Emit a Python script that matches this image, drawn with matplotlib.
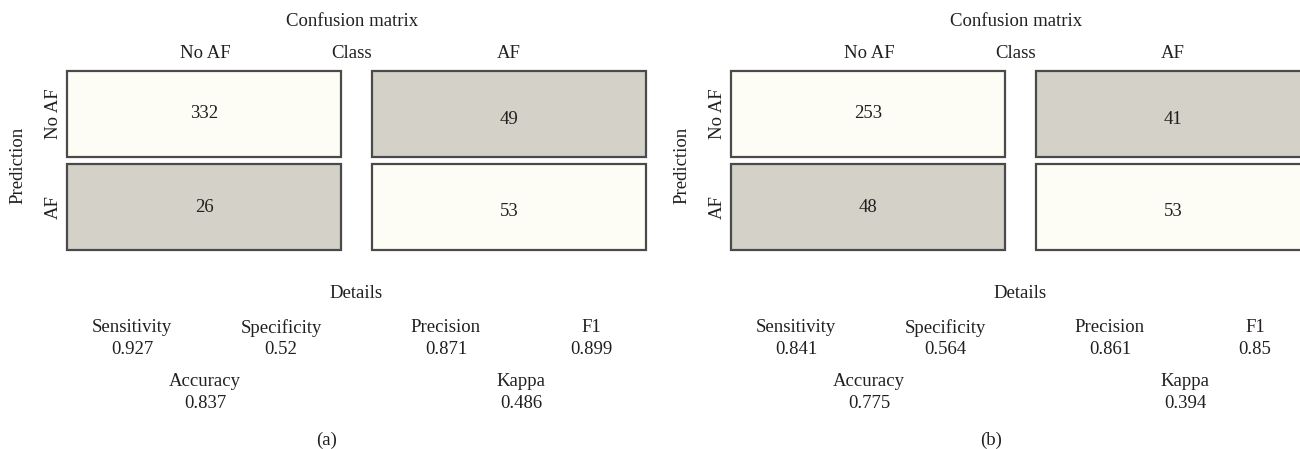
import matplotlib
matplotlib.use("Agg")
import matplotlib.pyplot as plt
from matplotlib.patches import Rectangle

# ── Data ─────────────────────────────────────────────────────────────────────
classes = ["No AF", "AF"]
counts_a = [[332, 49], [26, 53]]
counts_b = [[253, 41], [48, 53]]
top_metrics = ["Sensitivity", "Specificity", "Precision", "F1"]
top_values_a = ["0.927", "0.52", "0.871", "0.899"]
top_values_b = ["0.841", "0.564", "0.861", "0.85"]
bottom_metrics = ["Accuracy", "Kappa"]
bottom_values_a = ["0.837", "0.486"]
bottom_values_b = ["0.775", "0.394"]
panel_labels = ["(a)", "(b)"]

plt.rcParams["font.family"] = ["Liberation Serif", "DejaVu Serif"]
TXT = "#231f20"
LIGHT = "#fefdf5"
DARK = "#d4d2c8"
EDGE = "#4a4a4a"
FS = 13.5

fig = plt.figure(figsize=(13, 4.49), dpi=100)
ax = fig.add_axes([0, 0, 1, 1])
ax.set_xlim(0, 1300)
ax.set_ylim(449, 0)
ax.axis("off")

# layout in pixel units (figure is 1300 x 449)
COL_X = [67, 372]
ROW_Y = [71, 164]
CELL_W, CELL_H = 274, 86


def put(x, y, s, **kw):
    if "va" not in kw:
        kw["va"] = "center_baseline"
        y -= 2
    ax.text(x, y, s, ha="center", fontsize=FS, color=TXT, **kw)


def draw_panel(x0, counts, top_vals, bot_vals, label):
    put(x0 + 352, 21, "Confusion matrix")
    put(x0 + 205, 54, classes[0])
    put(x0 + 352, 54, "Class")
    put(x0 + 509, 54, classes[1])
    put(x0 + 18, 165, "Prediction", rotation=90, va="center")
    for i in range(2):
        put(x0 + 53, ROW_Y[i] + CELL_H / 2, classes[i], rotation=90, va="center")
        for j in range(2):
            face = LIGHT if i == j else DARK
            ax.add_patch(Rectangle((x0 + COL_X[j], ROW_Y[i]), CELL_W, CELL_H,
                                   facecolor=face, edgecolor=EDGE, linewidth=1.6))
            put(x0 + COL_X[j] + CELL_W / 2, ROW_Y[i] + CELL_H / 2 + 5 * j, str(counts[i][j]))

    put(x0 + 356, 293, "Details")
    for name, val, xm in zip(top_metrics, top_vals, [132, 281, 446, 591]):
        put(x0 + xm, 328, name)
        put(x0 + xm, 350, val)
    for name, val, xm in zip(bottom_metrics, bot_vals, [205, 521]):
        put(x0 + xm, 381, name)
        put(x0 + xm, 403, val)
    put(x0 + 327, 440, label)


draw_panel(0, counts_a, top_values_a, bottom_values_a, panel_labels[0])
draw_panel(664, counts_b, top_values_b, bottom_values_b, panel_labels[1])

fig.savefig("out.png", dpi=100)
plt.close(fig)
